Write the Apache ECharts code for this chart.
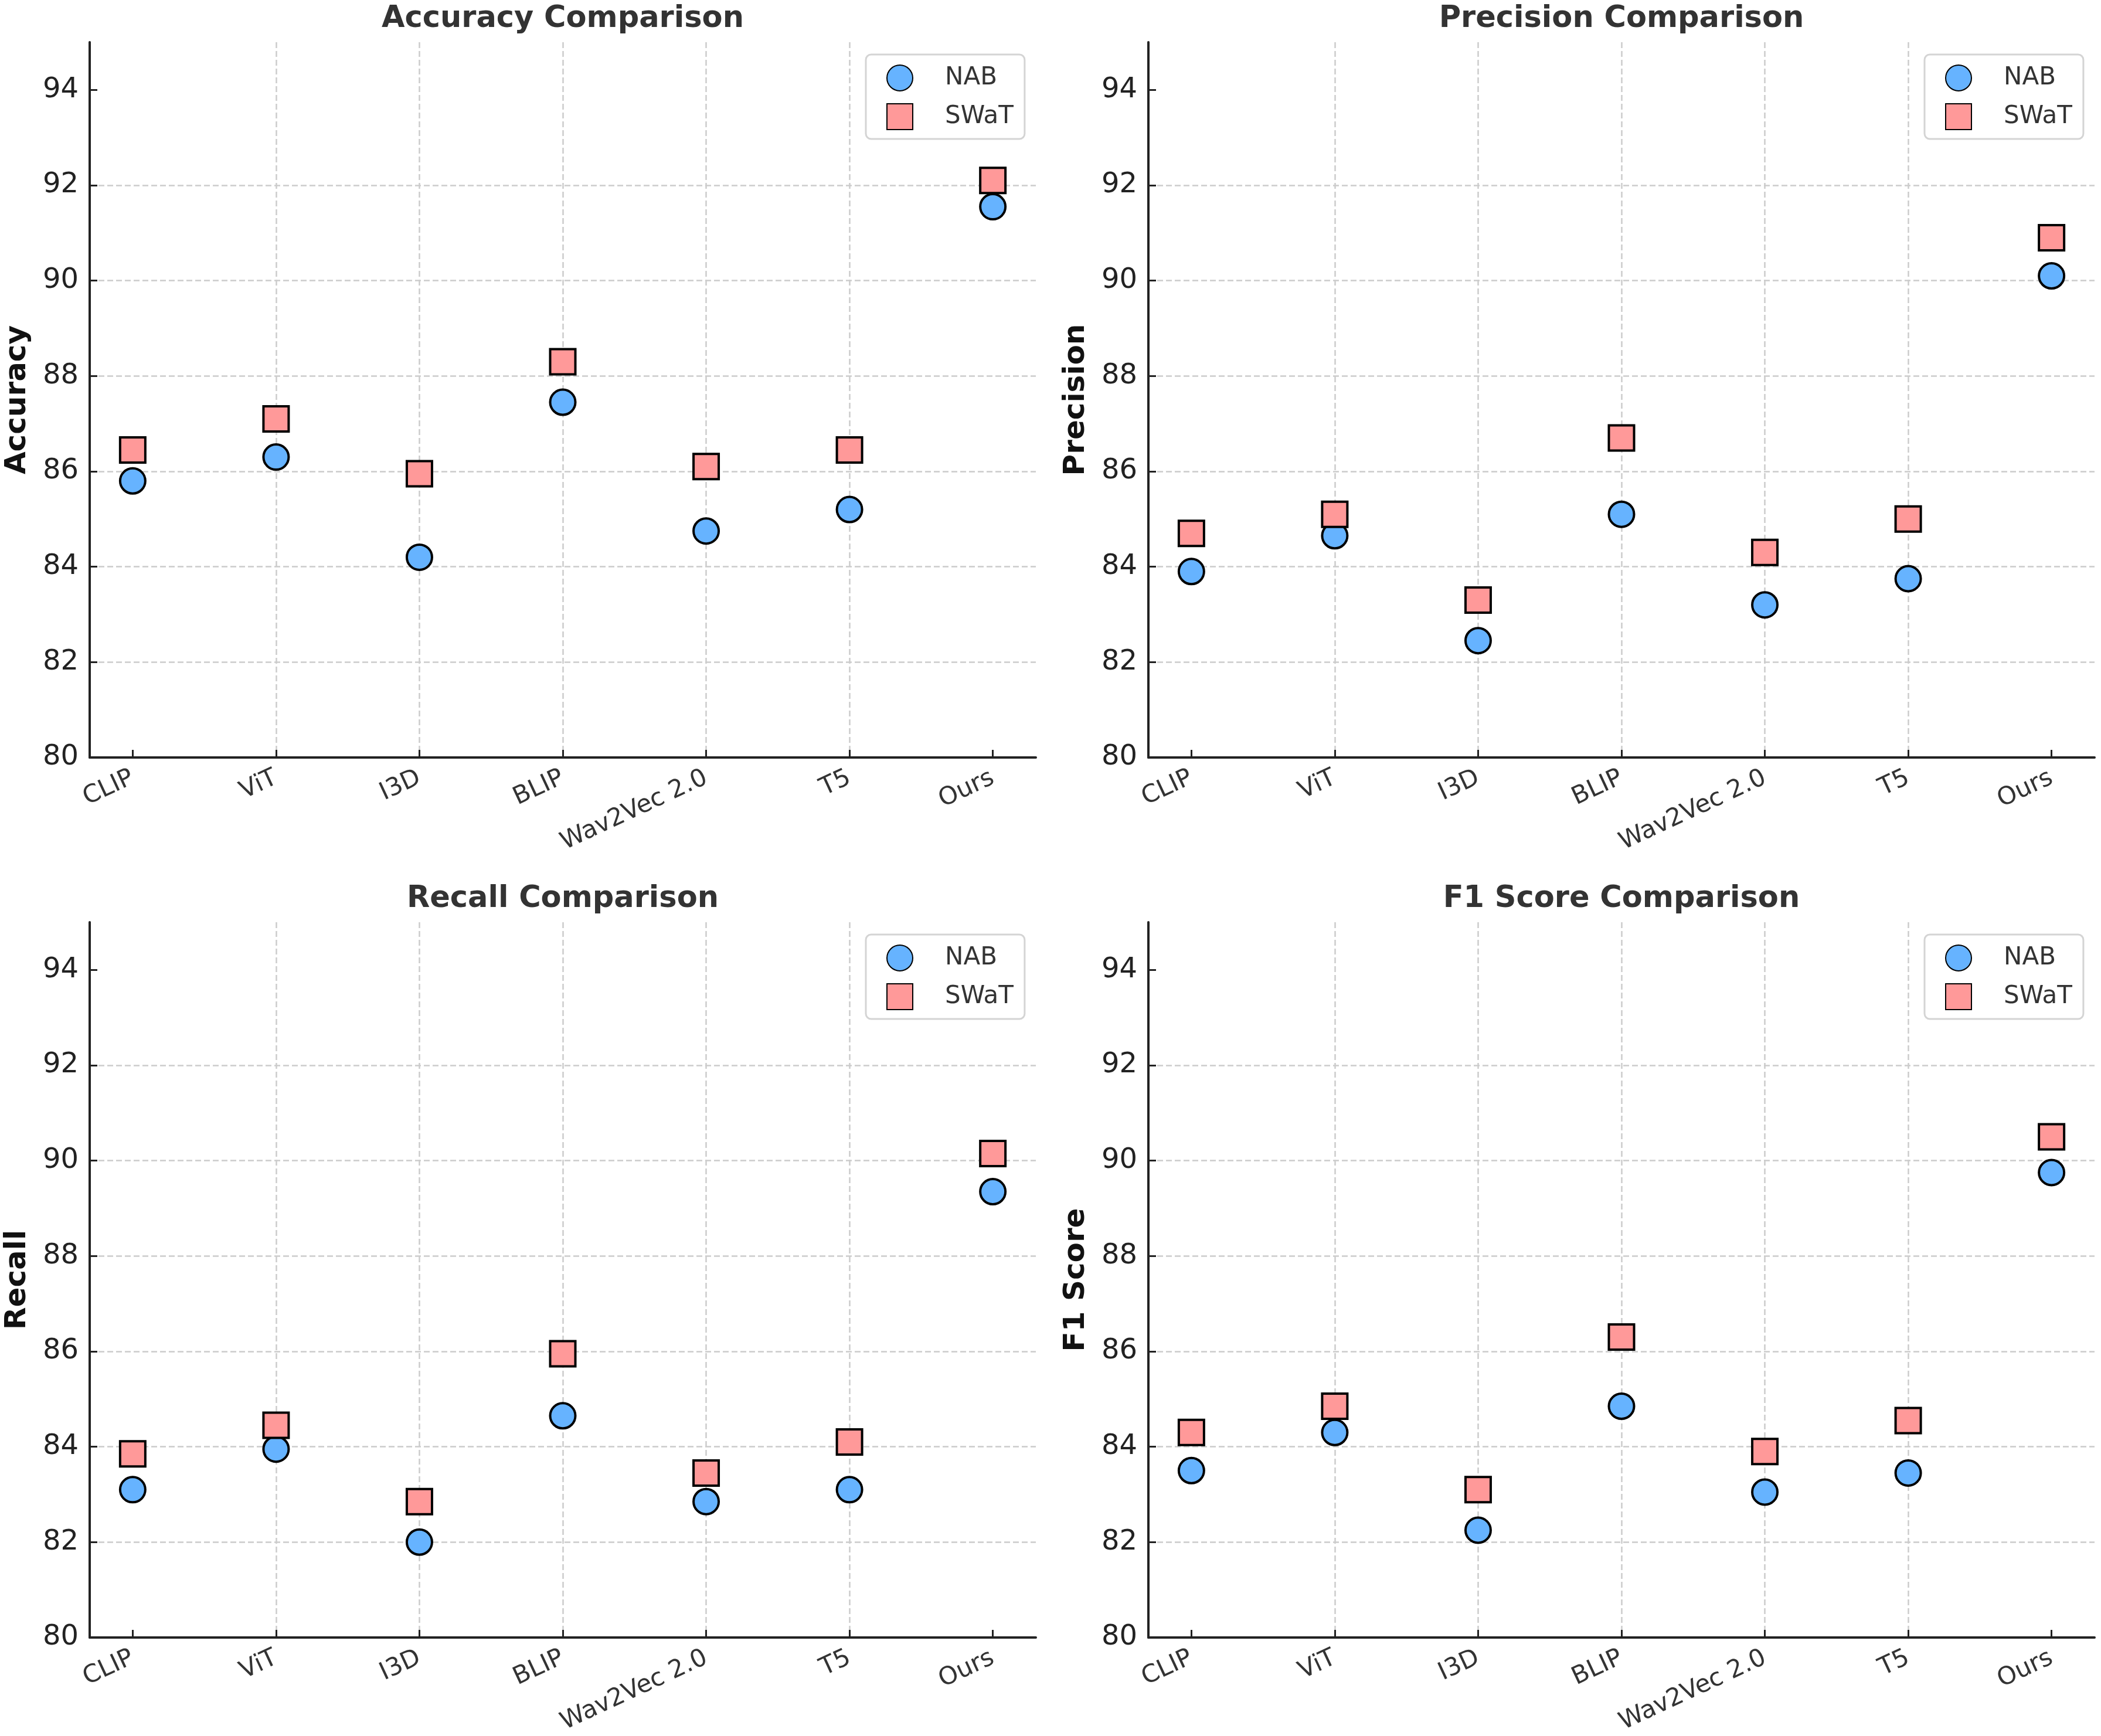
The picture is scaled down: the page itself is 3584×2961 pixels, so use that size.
<!DOCTYPE html>
<html>
<head>
	<meta charset="utf-8">
	<title>Comparison</title>
	<script src="https://cdn.jsdelivr.net/npm/echarts@6/dist/echarts.min.js"></script>
	<style>
		html, body { margin: 0; padding: 0; background: #fff; }
		#main { width: 3584px; height: 2961px; }
	</style>
</head>
<body>
<div id="main"></div>
<script>
	// 数据
	var models = ['CLIP', 'ViT', 'I3D', 'BLIP', 'Wav2Vec 2.0', 'T5', 'Ours'];
	var yTicks = [80, 82, 84, 86, 88, 90, 92, 94];

	var accNAB = [85.8, 86.3, 84.2, 87.45, 84.75, 85.2, 91.55];
	var accSWaT = [86.45, 87.1, 85.95, 88.3, 86.1, 86.45, 92.1];
	var precNAB = [83.9, 84.65, 82.45, 85.1, 83.2, 83.75, 90.1];
	var precSWaT = [84.7, 85.1, 83.3, 86.7, 84.3, 85.0, 90.9];
	var recNAB = [83.1, 83.95, 82.0, 84.65, 82.85, 83.1, 89.35];
	var recSWaT = [83.85, 84.45, 82.85, 85.95, 83.45, 84.1, 90.15];
	var f1NAB = [83.5, 84.3, 82.25, 84.85, 83.05, 83.45, 89.75];
	var f1SWaT = [84.3, 84.85, 83.1, 86.3, 83.9, 84.55, 90.5];

	var panels = [
		{ title: 'Accuracy Comparison', name: 'Accuracy', nab: accNAB, swat: accSWaT },
		{ title: 'Precision Comparison', name: 'Precision', nab: precNAB, swat: precSWaT },
		{ title: 'Recall Comparison', name: 'Recall', nab: recNAB, swat: recSWaT },
		{ title: 'F1 Score Comparison', name: 'F1 Score', nab: f1NAB, swat: f1SWaT }
	];

	var font = 'DejaVu Sans';
	var catIdx = models.map(function (m, i) { return i; });
	var gridPos = [
		{ left: 153, top: 72 },
		{ left: 1959, top: 72 },
		{ left: 153, top: 1573 },
		{ left: 1959, top: 1573 }
	];
	var gridW = 1614, gridH = 1220;

	var option = {
		backgroundColor: '#fff',
		animation: false,
		title: [], grid: [], xAxis: [], yAxis: [], legend: [], series: []
	};

	panels.forEach(function (p, k) {
		var g = gridPos[k];
		option.grid.push({
			left: g.left, top: g.top, width: gridW, height: gridH,
			containLabel: false, outerBoundsMode: 'none'
		});
		option.title.push({
			text: p.title,
			left: g.left + gridW / 2,
			top: g.top - 65,
			textAlign: 'center',
			padding: 0,
			textStyle: { fontFamily: font, fontSize: 51, fontWeight: 'bold', color: '#333' }
		});
		option.xAxis.push({
			type: 'value', gridIndex: k, min: -0.3, max: 6.3, splitNumber: 6,
			axisLine: { show: true, onZero: false, lineStyle: { color: '#222', width: 4 } },
			axisTick: { show: true, inside: true, length: 13, customValues: catIdx, lineStyle: { color: '#222', width: 3 } },
			axisLabel: {
				customValues: catIdx, rotate: 25, margin: 33,
				fontFamily: font, fontSize: 42, color: '#333',
				formatter: function (v) { return models[Math.round(v)]; }
			},
			splitLine: { show: true, showMinLine: false, showMaxLine: false, lineStyle: { color: '#cccccc', width: 2.5, type: [10, 5] } }
		});
		option.yAxis.push({
			type: 'value', gridIndex: k, min: 80, max: 95, interval: 2, position: 'left',
			name: p.name, nameLocation: 'middle', nameRotate: 90, nameGap: 98,
			nameTextStyle: { fontFamily: font, fontSize: 50, fontWeight: 'bold', color: '#111' },
			axisLine: { show: true, onZero: false, lineStyle: { color: '#222', width: 4 } },
			axisTick: { show: true, inside: true, length: 13, customValues: yTicks, lineStyle: { color: '#222', width: 3 } },
			axisLabel: { customValues: yTicks, margin: 19, fontFamily: font, fontSize: 48, color: '#222' },
			splitLine: { show: true, showMaxLine: false, lineStyle: { color: '#cccccc', width: 2.5, type: [10, 5] } }
		});
		option.legend.push({
			left: g.left + gridW - 290, top: g.top + 21,
			orient: 'vertical',
			data: [{ name: 'NAB', icon: 'circle' }, { name: 'SWaT', icon: 'rect' }],
			itemWidth: 44, itemHeight: 44, itemGap: 20,
			padding: [17, 19, 15, 35],
			backgroundColor: 'rgba(255,255,255,0.85)',
			borderColor: '#d4d4d4', borderWidth: 3, borderRadius: 9,
			selectedMode: false,
			textStyle: { fontFamily: font, fontSize: 42, color: '#333', padding: [0, 0, 0, 50] }
		});
		option.series.push({
			name: 'NAB', type: 'scatter', xAxisIndex: k, yAxisIndex: k,
			symbol: 'circle', symbolSize: 43,
			itemStyle: { color: '#66b3ff', borderColor: '#000', borderWidth: 4, opacity: 1 },
			data: p.nab.map(function (v, i) { return [i, v]; })
		});
		option.series.push({
			name: 'SWaT', type: 'scatter', xAxisIndex: k, yAxisIndex: k,
			symbol: 'rect', symbolSize: 43,
			itemStyle: { color: '#ff9999', borderColor: '#000', borderWidth: 4, opacity: 1 },
			data: p.swat.map(function (v, i) { return [i, v]; })
		});
	});

	var myChart = echarts.init(document.getElementById('main'));
	myChart.setOption(option);
</script>
</body>
</html>
